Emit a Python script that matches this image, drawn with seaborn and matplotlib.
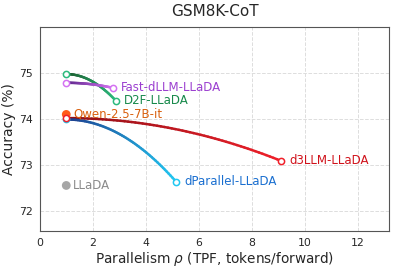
import matplotlib

matplotlib.use("Agg")
import matplotlib.pyplot as plt
import numpy as np
import pandas as pd
import seaborn as sns
from matplotlib.collections import LineCollection
from matplotlib.colors import LinearSegmentedColormap

# --------------------------------------------------------------------------- #
# Data
# --------------------------------------------------------------------------- #
curve_models = ["d3LLM-LLaDA", "dParallel-LLaDA", "D2F-LLaDA", "Fast-dLLM-LLaDA"]
curve_tpf_start = [1.0, 1.0, 1.0, 1.0]
curve_acc_start = [74.02, 73.99, 74.98, 74.79]
curve_tpf_end = [9.1, 5.15, 2.87, 2.76]
curve_acc_end = [73.09, 72.63, 74.40, 74.68]

point_models = ["Qwen-2.5-7B-it", "LLaDA"]
point_tpf = [1.0, 1.0]
point_acc = [74.10, 72.55]

# styles: (dark start colour, light end colour, label colour)
curve_styles = {
    "d3LLM-LLaDA": ("#8e0f16", "#f0202a", "#d0121b"),
    "dParallel-LLaDA": ("#1d3a8c", "#22c8f2", "#1a6fd0"),
    "D2F-LLaDA": ("#1b5a2c", "#2cba7e", "#17894a"),
    "Fast-dLLM-LLaDA": ("#5a2488", "#d472f2", "#9b3fd0"),
}
point_styles = {
    "Qwen-2.5-7B-it": ("#ff5a1a", "#d9600e"),
    "LLaDA": ("#a6a6a6", "#8a8a8a"),
}

curves = pd.DataFrame({
    "model": curve_models,
    "x0": curve_tpf_start, "y0": curve_acc_start,
    "x1": curve_tpf_end, "y1": curve_acc_end,
})
points = pd.DataFrame({"model": point_models, "tpf": point_tpf, "acc": point_acc})

# --------------------------------------------------------------------------- #
# Figure
# --------------------------------------------------------------------------- #
sns.set_style("white")
plt.rcParams["font.family"] = ["DejaVu Sans"]

fig = plt.figure(figsize=(3.94, 2.68), dpi=100)
ax = fig.add_axes([0.101, 0.137, 0.887, 0.761])

ax.grid(True, color="#dddddd", linestyle="--", linewidth=0.7)
ax.set_axisbelow(True)

# gradient connectors (flat start, bending down toward the end point)
t = np.linspace(0, 1, 60)
for _, r in curves.iterrows():
    c0, c1, lc = curve_styles[r["model"]]
    xs = r["x0"] + (r["x1"] - r["x0"]) * t
    ys = r["y0"] + (r["y1"] - r["y0"]) * t ** 2
    pts = np.column_stack([xs, ys]).reshape(-1, 1, 2)
    segs = np.concatenate([pts[:-1], pts[1:]], axis=1)
    cmap = LinearSegmentedColormap.from_list(r["model"], [c0, c1])
    coll = LineCollection(segs, colors=cmap(t[:-1]), linewidth=1.8,
                          capstyle="round", zorder=3)
    ax.add_collection(coll)

# draw in reverse so the d3LLM start marker sits on top at x=1
for _, r in curves.iloc[::-1].iterrows():
    c0, c1, lc = curve_styles[r["model"]]
    ends = pd.DataFrame({"x": [r["x0"], r["x1"]], "y": [r["y0"], r["y1"]]})
    sns.scatterplot(data=ends, x="x", y="y", ax=ax, s=20, facecolor="white",
                    edgecolor=c1, linewidth=1.1, zorder=5, legend=False)
    ax.annotate(r["model"], (r["x1"], r["y1"]), xytext=(6, 0),
                textcoords="offset points", va="center", ha="left",
                fontsize=8.5, color=lc, zorder=6)

for _, r in points.iterrows():
    fc, lc = point_styles[r["model"]]
    sns.scatterplot(x=[r["tpf"]], y=[r["acc"]], ax=ax, s=40, color=fc,
                    edgecolor="none", zorder=4, legend=False)
    ax.annotate(r["model"], (r["tpf"], r["acc"]), xytext=(5, 0),
                textcoords="offset points", va="center", ha="left",
                fontsize=8.5, color=lc, zorder=6)

ax.set_xlim(0, 13.2)
ax.set_ylim(71.55, 76.0)
ax.set_xticks([0, 2, 4, 6, 8, 10, 12])
ax.set_yticks([72, 73, 74, 75])
ax.tick_params(axis="both", labelsize=7.8, length=3, pad=2, color="#555555")
ax.set_xlabel(r"Parallelism $\rho$ (TPF, tokens/forward)", fontsize=9.8, labelpad=1)
ax.set_ylabel("Accuracy (%)", fontsize=10, labelpad=2)
ax.set_title("GSM8K-CoT", fontsize=11, pad=8)
for sp in ax.spines.values():
    sp.set_color("#555555")
    sp.set_linewidth(0.8)

fig.savefig("out.png", dpi=100)
